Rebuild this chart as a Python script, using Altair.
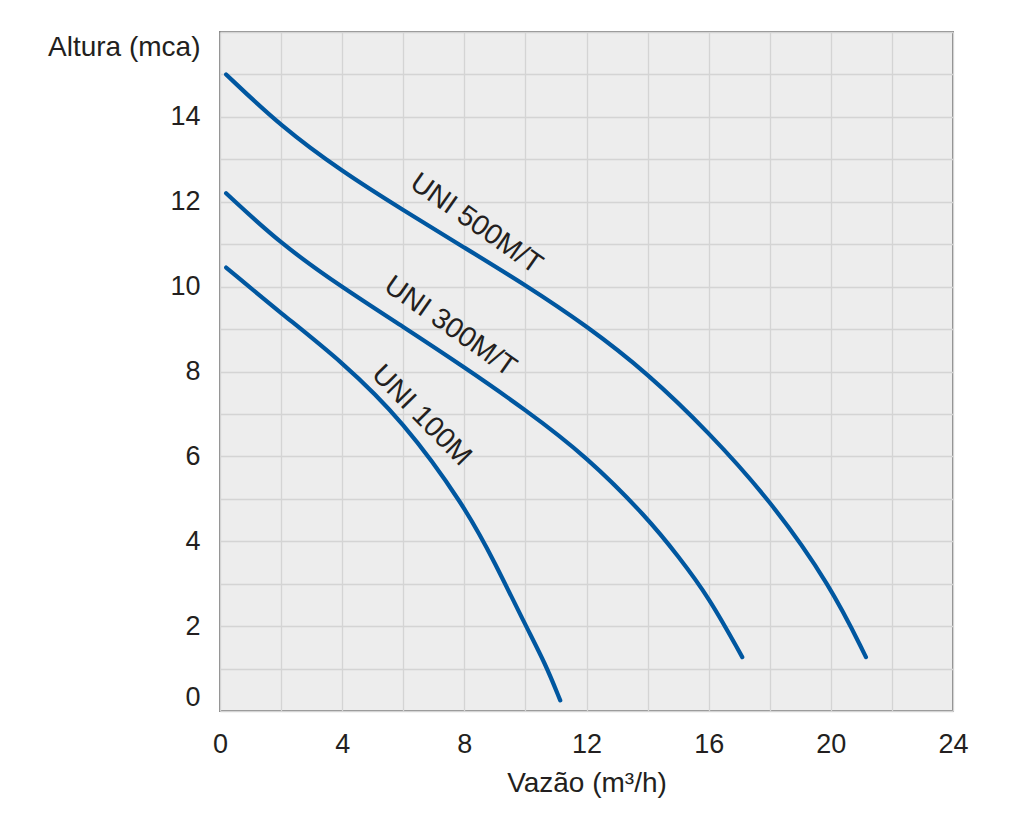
import altair as alt
import pandas as pd

# --- data ---
uni500_x = [0.2, 2, 4, 6, 8, 10, 12, 14, 16, 18, 20, 21.15]
uni500_y = [15.0, 13.77, 12.71, 11.8, 10.92, 10.04, 9.08, 7.96, 6.57, 4.98, 2.95, 1.27]

uni300_x = [0.2, 2, 4, 6, 8, 10, 12, 14, 15, 16, 17.1]
uni300_y = [12.2, 11.0, 9.98, 9.05, 8.1, 7.1, 6.0, 4.55, 3.65, 2.69, 1.27]

uni100_x = [0.2, 2, 4, 6, 8, 9, 10, 10.65, 11.14]
uni100_y = [10.45, 9.37, 8.23, 6.83, 4.84, 3.5, 2.02, 1.12, 0.25]

series_names = ["UNI 500M/T", "UNI 300M/T", "UNI 100M"]
label_x = [8.4, 7.55, 6.61]
label_y = [11.49, 9.07, 6.97]

x_ticks = list(range(0, 25, 2))
y_ticks = list(range(0, 17, 1))

FONT = "Liberation Sans"
TXT = "#231f20"
BLUE = "#0057a0"

rows = []
for name, xs, ys in zip(series_names, [uni500_x, uni300_x, uni100_x], [uni500_y, uni300_y, uni100_y]):
    for i, (a, b) in enumerate(zip(xs, ys)):
        rows.append({"serie": name, "order": i, "vazao": a, "altura": b})
df = pd.DataFrame(rows)

xscale = alt.Scale(domain=[0, 24], nice=False, zero=False)
yscale = alt.Scale(domain=[0, 16], nice=False, zero=False)

xaxis = alt.Axis(
    values=x_ticks,
    labelExpr="datum.value % 4 == 0 ? datum.label : ''",
    title="Vazão (m³/h)",
    titleY=80, titleBaseline="alphabetic", titleFontWeight="normal",
    titleFontSize=28, titleColor=TXT, titleFont=FONT,
    labelFontSize=27, labelColor=TXT, labelFont=FONT, labelPadding=20,
    labelFlush=False,
    ticks=False, domain=False,
    grid=True, gridColor="#d4d4d4", gridWidth=1.3,
)
yaxis = alt.Axis(
    values=y_ticks,
    labelExpr="(datum.value % 2 == 0 && datum.value <= 14) ? datum.label : ''",
    title="Altura (mca)",
    titleAngle=0, titleX=-20, titleY=23, titleAlign="right", titleBaseline="alphabetic",
    titleFontWeight="normal", titleFontSize=28, titleColor=TXT, titleFont=FONT,
    labelFontSize=27, labelColor=TXT, labelFont=FONT, labelPadding=20,
    labelFlush=True,
    ticks=False, domain=False,
    grid=True, gridColor="#d4d4d4", gridWidth=1.3,
)

lines = alt.Chart(df).mark_line(
    color=BLUE, strokeWidth=4.2, strokeCap="round", interpolate="basis"
).encode(
    x=alt.X("vazao:Q", scale=xscale, axis=xaxis),
    y=alt.Y("altura:Q", scale=yscale, axis=yaxis),
    detail="serie:N",
    order="order:Q",
)

angles = [35, 35, 45.5]
texts = []
for name, lx, ly, ang in zip(series_names, label_x, label_y, angles):
    tdf = pd.DataFrame({"serie": [name], "vazao": [lx], "altura": [ly]})
    texts.append(
        alt.Chart(tdf).mark_text(
            angle=ang, fontSize=28.5, font=FONT, color=TXT, align="center", baseline="middle"
        ).encode(
            x=alt.X("vazao:Q", scale=xscale),
            y=alt.Y("altura:Q", scale=yscale),
            text="serie:N",
        )
    )

chart = alt.layer(lines, *texts).properties(
    width=733, height=679,
    autosize=alt.AutoSizeParams(type="none"),
    padding={"left": 212, "top": 24, "right": 60, "bottom": 100},
    background="white",
).configure_view(
    fill="#ededed", stroke="#8a8a8a", strokeWidth=2
)

chart.save("out.html", embed_options={"renderer": "svg", "actions": False})
